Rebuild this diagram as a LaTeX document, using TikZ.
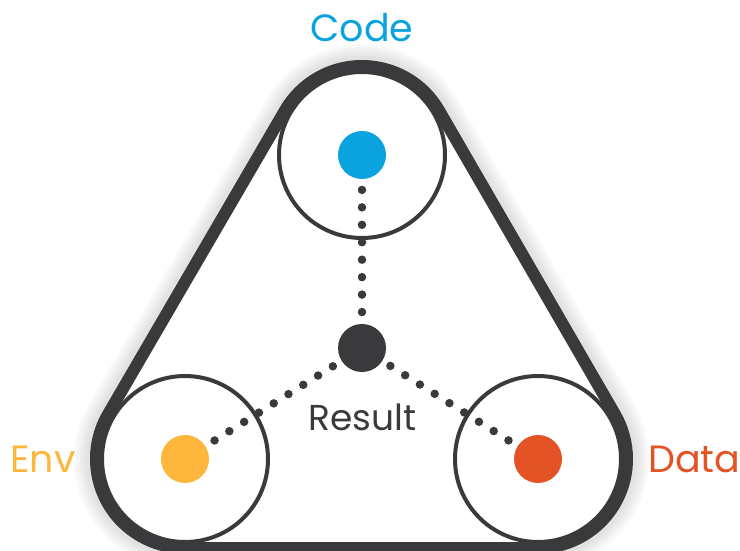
\documentclass[tikz,border=0pt]{standalone}
\usepackage{fontspec}
\setmainfont{Poppins}
\usetikzlibrary{calc}
\definecolor{codeblue}{HTML}{0BA3DF}
\definecolor{envorange}{HTML}{FEB63D}
\definecolor{datared}{HTML}{E35326}
\definecolor{darkgray}{HTML}{3A3A3C}
\tikzset{
  beltpath/.style={insert path={($(C)+(270:89)$) -- ($(D)+(270:89)$)
      arc[start angle=270,end angle=390,radius=89] -- ($(C)+(30:89)$)
      arc[start angle=30,end angle=150,radius=89] -- ($(E)+(150:89)$)
      arc[start angle=150,end angle=270,radius=89] -- cycle}},
  ring/.style={circle,draw=darkgray,line width=4pt,minimum size=166pt,inner sep=0pt},
  bigdot/.style={circle,inner sep=0pt,minimum size=48pt},
  dotline/.style={draw=darkgray,line width=8.5pt,line cap=round,dash pattern=on 0pt off 17.45pt},
  lbl/.style={inner sep=0pt,font=\fontsize{38}{40}\selectfont}
}
\begin{document}
\begin{tikzpicture}[x=1pt,y=1pt]
\useasboundingbox (0,0) rectangle (740,550);
\coordinate (C) at (362,395);
\coordinate (E) at (185,91);
\coordinate (D) at (538,91);
\coordinate (R) at (362,202);
% fix belt path start at bottom of E
\tikzset{beltpath/.style={insert path={($(E)+(270:89)$) -- ($(D)+(270:89)$)
      arc[start angle=270,end angle=390,radius=89] -- ($(C)+(30:89)$)
      arc[start angle=30,end angle=150,radius=89] -- ($(E)+(150:89)$)
      arc[start angle=150,end angle=270,radius=89] -- cycle}}}
% soft shadow
\foreach \w in {44,38,32,26,20}{
  \path[draw=black,opacity=0.025,line width=\w pt,beltpath];
}
\path[fill=white,beltpath];
\path[draw=darkgray,line width=12pt,line join=round,beltpath];
% rings
\node[ring] (codering) at (C) {};
\node[ring] (envring) at (E) {};
\node[ring] (dataring) at (D) {};
% dotted connectors
\draw[dotline] (C) -- (R);
\draw[dotline] (E) -- (R);
\draw[dotline] (D) -- (R);
% dots
\node[bigdot,fill=codeblue] (codedot) at (C) {};
\node[bigdot,fill=envorange] (envdot) at (E) {};
\node[bigdot,fill=datared] (datadot) at (D) {};
\node[bigdot,fill=darkgray] (resdot) at (R) {};
% labels
\node[lbl,anchor=base,text=codeblue] (codelbl) at (362,508) {Code};
\node[lbl,anchor=base west,text=envorange] (envlbl) at (10,78) {Env};
\node[lbl,anchor=base west,text=datared] (datalbl) at (648,78) {Data};
\node[lbl,anchor=base,text=darkgray,font=\fontsize{36}{38}\selectfont] (reslbl) at (362.5,120) {Result};
\end{tikzpicture}
\end{document}
